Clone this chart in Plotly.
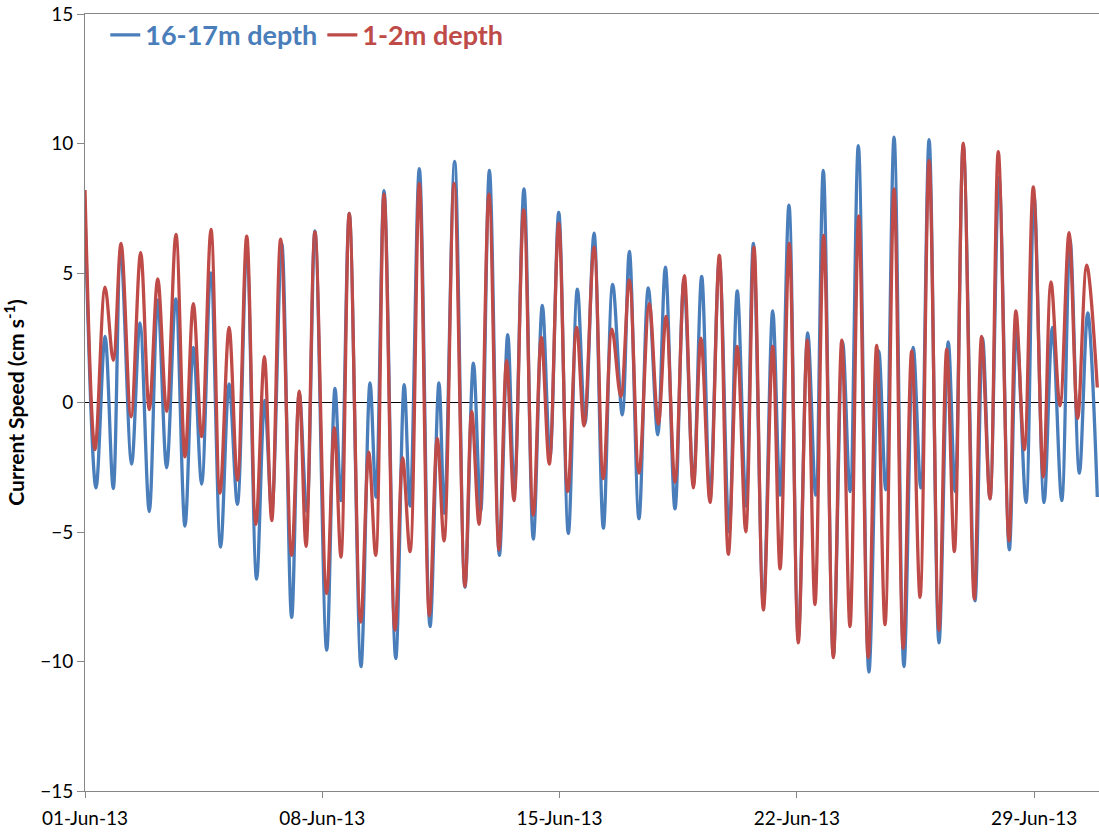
import pandas as pd
import plotly.graph_objects as go

# Hours after 2013-06-01 00:00 at each turning point, and current speed (cm/s)
deep_hours = [0, 7.8, 14.2, 20, 25.3, 33, 38.9, 45.5, 51.5, 57.8, 64.2, 70.8, 76.7, 82.6,
              89, 96, 102, 107.9, 114.5, 121.5, 127.2, 132.2, 139.3, 146.3, 151.7, 157,
              162.8, 171.1, 177, 181.2, 187.1, 195.4, 201.8, 206, 211.7, 220, 226, 230.1,
              236.7, 244.3, 250.6, 254.4, 261.7, 269, 275, 280.1, 286.3, 293.4, 299.3,
              303.9, 310.8, 317.4, 323.8, 329.2, 335.4, 342.2, 348.6, 354, 360.4, 367,
              373.6, 380.4, 385.4, 392.2, 398.8, 405.5, 410.9, 417.7, 424, 430.7, 436.6,
              442.5, 449.1, 456, 461.8, 468, 473.2, 480.3, 486.9, 492.1, 498.4, 505,
              511.7, 517.3, 522.7, 529.8, 536.4, 541.6, 547.5, 555, 562, 566.9, 572.8,
              579.8, 586.4, 591.7, 597.6, 604.6, 611.2, 616, 621.8, 630.1, 635.5, 640.7,
              647.1, 654.4, 659.6, 666.2, 671.9, 679, 684.9, 691.5, 697.4, 704, 709.9,
              716.7]
deep_speed = [7.4, -3.3, 2.55, -3.32, 5.86, -2.38, 3.07, -4.21, 3.96, -2.52, 4.0, -4.77,
              2.13, -3.15, 5.0, -5.58, 0.72, -3.93, 5.86, -6.82, 0.08, -4.2, 6.14, -8.3,
              0.37, -4.2, 6.63, -9.56, 0.54, -3.79, 7.3, -10.2, 0.76, -3.65, 8.18, -9.89,
              0.69, -4.0, 9.03, -8.65, 0.76, -4.28, 9.31, -7.13, 1.52, -4.21, 8.96, -5.9,
              2.62, -3.44, 8.25, -5.27, 3.75, -2.1, 7.34, -5.06, 4.38, -0.83, 6.54, -4.85,
              4.56, -0.48, 5.83, -4.49, 4.42, -1.25, 5.23, -4.11, 4.7, -3.15, 4.87, -3.72,
              5.5, -4.99, 4.31, -4.0, 6.14, -7.8, 3.54, -3.58, 7.62, -9.07, 2.69, -3.58,
              8.96, -9.77, 2.34, -3.44, 9.92, -10.41, 1.99, -3.37, 10.25, -10.2, 2.13,
              -3.3, 10.15, -9.28, 2.34, -3.44, 9.94, -7.66, 2.48, -3.72, 8.68, -5.69, 2.76,
              -3.86, 7.97, -3.86, 2.9, -3.79, 6.28, -2.73, 3.46, -3.65]

surface_hours = [0, 7.1, 14.2, 20, 25.5, 32.6, 39.4, 45.5, 51.5, 57.8, 64.4, 70.8, 76.7,
                 82.6, 89.2, 95.6, 102, 107.9, 114.5, 121, 127, 132.2, 138.5, 146.3, 151.7,
                 156.5, 162.8, 171.1, 176.5, 181.2, 187.1, 195.2, 200.9, 205.8, 211.7, 219.5,
                 224.9, 230.1, 236.7, 243.8, 249.4, 254.2, 261.3, 269, 273.8, 279, 286,
                 293.1, 298.5, 303.7, 310.6, 317.4, 323.1, 328.7, 335.4, 341.8, 348.1, 353.3,
                 360.4, 367, 373.1, 379.3, 385.4, 392.2, 399.5, 405.9, 411.4, 417.7, 424.3,
                 430.7, 436.1, 442.5, 449.1, 455.5, 461.8, 467.8, 473.6, 480.3, 486.9, 492.1,
                 498.6, 505, 511.4, 516.8, 523, 529.8, 535.8, 541.6, 547.8, 554.5, 560.5,
                 566.4, 572.8, 579.3, 585.3, 591.2, 597.6, 604.6, 610.1, 615.5, 621.8, 629.6,
                 634.8, 640.7, 646.6, 654.2, 659.1, 665, 671.4, 678.5, 683.9, 690.3, 696.7,
                 702.8, 709.2, 716.7]
surface_speed = [8.2, -1.82, 4.45, 1.63, 6.14, -0.55, 5.79, -0.27, 4.77, -0.34, 6.49, -2.1,
                 3.82, -1.32, 6.68, -3.5, 2.9, -3.0, 6.42, -4.7, 1.77, -4.56, 6.31, -5.9,
                 0.44, -5.55, 6.59, -7.38, -0.97, -5.97, 7.3, -8.48, -1.92, -5.9, 8.04, -8.79,
                 -2.14, -5.76, 8.46, -8.23, -1.39, -5.34, 8.46, -7.1, -0.34, -4.7, 8.04, -5.69,
                 1.63, -3.79, 7.44, -4.35, 2.52, -2.38, 6.92, -3.44, 2.9, -0.9, 6.0, -2.94,
                 2.83, 0.23, 4.73, -2.73, 3.82, -0.83, 3.32, -3.08, 4.9, -3.3, 2.48, -3.86,
                 5.69, -5.86, 2.17, -4.99, 6.0, -8.01, 2.17, -6.42, 6.14, -9.28, 2.41, -7.8,
                 6.45, -9.85, 2.41, -8.65, 7.2, -9.85, 2.2, -8.58, 8.25, -9.49, 1.99, -7.52,
                 9.35, -8.79, 2.06, -5.76, 10.01, -7.59, 2.55, -3.72, 9.69, -5.34, 3.54,
                 -1.82, 8.32, -2.87, 4.66, -0.13, 6.56, -0.62, 5.3, 0.58]

tick_dates = ["2013-06-01", "2013-06-08", "2013-06-15", "2013-06-22", "2013-06-29"]
tick_labels = ["01-Jun-13", "08-Jun-13", "15-Jun-13", "22-Jun-13", "29-Jun-13"]
y_ticks = [-15, -10, -5, 0, 5, 10, 15]

BLUE = "#4A7EBB"
RED = "#BE4B48"
FONT = "Lato"

start = pd.Timestamp("2013-06-01")
deep_time = start + pd.to_timedelta(deep_hours, unit="h")
surface_time = start + pd.to_timedelta(surface_hours, unit="h")

fig = go.Figure()
fig.add_trace(go.Scatter(
    x=deep_time, y=deep_speed, mode="lines",
    name=f"<span style='color:{BLUE}'><b>16-17m depth</b></span>",
    line=dict(color=BLUE, width=3.3, shape="spline", smoothing=1.0),
))
fig.add_trace(go.Scatter(
    x=surface_time, y=surface_speed, mode="lines",
    name=f"<span style='color:{RED}'><b>1-2m depth</b></span>",
    line=dict(color=RED, width=3.3, shape="spline", smoothing=1.0),
))

fig.update_layout(
    width=1099, height=839,
    margin=dict(l=85, r=0, t=14, b=48),
    plot_bgcolor="white", paper_bgcolor="white",
    font=dict(family=FONT, size=19, color="#000000"),
    showlegend=True,
    legend=dict(
        orientation="h", x=0.02, xanchor="left", y=1.004, yanchor="top",
        bgcolor="rgba(0,0,0,0)", font=dict(family=FONT, size=27),
        itemwidth=30,
    ),
    xaxis=dict(
        range=[start, start + pd.Timedelta(hours=717.9)],
        tickvals=pd.to_datetime(tick_dates), ticktext=tick_labels,
        showline=True, linecolor="#868686", linewidth=1, mirror=True,
        ticks="outside", ticklen=6, tickcolor="#868686",
        showgrid=False, zeroline=False,
        tickfont=dict(family=FONT, size=19),
        ticklabelstandoff=4,
    ),
    yaxis=dict(
        range=[-15, 15], tickvals=y_ticks,
        showline=True, linecolor="#868686", linewidth=1,
        ticks="outside", ticklen=7, tickcolor="#868686",
        showgrid=False,
        zeroline=True, zerolinecolor="#000000", zerolinewidth=1,
        tickfont=dict(family=FONT, size=19),
        title=dict(text="<b>Current Speed (cm s<sup>-1</sup>)</b>",
                   font=dict(family=FONT, size=21), standoff=10),
    ),
)

fig.write_html("out.html")
